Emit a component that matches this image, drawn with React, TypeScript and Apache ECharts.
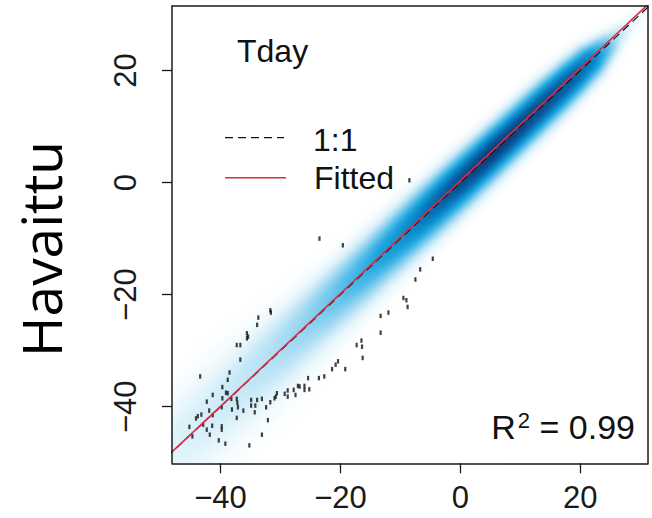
import React, { useEffect, useRef } from "react";
import * as echarts from "echarts";

// Axis ranges and ticks
const X_MIN = -48.1;
const X_MAX = 31.3;
const Y_MIN = -50.1;
const Y_MAX = 31.5;
const xTickValues = [-40, -20, 0, 20];
const yTickValues = [-40, -20, 0, 20];

// Smoothed density ridge along the diagonal (position, half-width in data units, peak density 0..1)
const bandX = [-50, -45, -40, -35, -30, -25, -20, -15, -10, -5, 0, 5, 10, 15, 19, 22, 24, 26, 28, 32];
const bandHalfWidth = [17, 17, 16.5, 15.5, 14, 12.5, 11.5, 10.5, 10, 9.5, 9, 8.5, 8.2, 8, 7.5, 7, 6, 5, 4, 3];
const bandPeak = [0.08, 0.1, 0.12, 0.15, 0.19, 0.25, 0.34, 0.46, 0.6, 0.78, 0.93, 1.0, 0.97, 0.92, 0.85, 0.7, 0.42, 0.18, 0.07, 0.02];

// Outlying individual points
const outlierX = [
  -31.7, -31.6, -33.7, -33.9, -35.6, -35.4, -35.6, -37.3, -36.7, -36.7, -38.5, -43.4, -38.8, -39.7, -41.3,
  -39.1, -38.8, -39.7, -42.3, -38.2, -37.3, -37.2, -37.1, -38.1, -39.8, -41.9, -43.2, -43.8, -44.1, -41.3,
  -37.3, -36.2, -34.9, -34.2, -34.9, -33.9, -34.3, -33.1, -32.4, -31.7, -31.0, -30.8, -30.6, -29.3, -28.8,
  -28.8, -27.8, -27.5, -27.1, -26.8, -26.0, -26.0, -25.2, -25.4, -23.6, -22.7, -21.4, -20.8, -20.4, -19.2,
  -45.2, -44.7, -42.9, -42.3, -41.8, -41.4, -39.8, -39.8, -40.3, -39.2, -35.2, -33.1, -32.1,
  -17.3, -16.5, -16.4, -16.3, -13.3, -13.3, -12.0, -9.5, -9.0, -8.8, -7.5, -6.7, -4.6, -23.5, -19.6, -8.5,
];
const outlierY = [
  -22.8, -23.2, -24.1, -25.4, -26.9, -27.5, -27.8, -29.0, -29.0, -31.6, -33.9, -34.6, -35.2, -36.5, -37.9,
  -37.5, -37.6, -38.5, -39.1, -38.6, -38.6, -39.3, -40.1, -40.5, -40.1, -40.7, -41.4, -41.7, -42.1, -41.5,
  -42.0, -40.7, -39.8, -39.8, -38.8, -38.8, -41.0, -38.6, -40.1, -39.2, -38.5, -38.2, -37.6, -37.7, -37.1,
  -38.2, -37.0, -37.9, -36.3, -36.4, -36.3, -37.0, -36.9, -34.9, -34.9, -34.6, -33.3, -32.5, -31.9, -33.3,
  -43.6, -45.3, -43.2, -44.1, -45.0, -43.4, -43.5, -44.1, -46.0, -46.6, -46.9, -45.0, -42.4,
  -29.0, -28.2, -29.3, -31.3, -26.8, -23.8, -23.2, -20.6, -21.0, -22.2, -17.3, -15.5, -13.6, -10.0, -11.2, 0.4,
];

// Fitted regression line
const fitSlope = 1.006;
const fitIntercept = 0.3;
const rSquared = "0.99";
const lineEnds = [-60, 40];

// Density colour ramp (white -> cyan -> dark blue)
const rampLevels = [0, 0.08, 0.2, 0.35, 0.5, 0.65, 0.8, 0.92, 1];
const rampColors = ["#ffffff", "#e3f4fb", "#a6dbf2", "#58bfea", "#1ca5df", "#0b8bcb", "#066aae", "#08508f", "#0b3c7a"];

const RED = "#dc2a45";
const FONT = '"Liberation Sans", Arial, sans-serif';

function hexToRgb(h: string) {
  return [parseInt(h.slice(1, 3), 16), parseInt(h.slice(3, 5), 16), parseInt(h.slice(5, 7), 16)];
}
const rampRgb = rampColors.map(hexToRgb);

function densColor(d: number) {
  const v = Math.max(0, Math.min(1, d));
  let k = 0;
  while (k < rampLevels.length - 2 && v > rampLevels[k + 1]) k++;
  const t = (v - rampLevels[k]) / (rampLevels[k + 1] - rampLevels[k]);
  const a = rampRgb[k];
  const b = rampRgb[k + 1];
  const c = a.map((x, i) => Math.round(x + (b[i] - x) * t));
  return `rgb(${c[0]},${c[1]},${c[2]})`;
}

const lerp = (a: number, b: number, t: number) => a + (b - a) * t;

function renderBand(params: any, api: any) {
  const i = params.dataIndex;
  if (i >= bandX.length - 1) return null;
  const children: any[] = [];
  const K = 8;
  const N = 20;
  const sigma = 0.38;
  for (let j = 0; j < K; j++) {
    const t0 = j / K;
    const t1 = (j + 1) / K;
    const tm = (t0 + t1) / 2;
    const xa = lerp(bandX[i], bandX[i + 1], t0);
    const xb = lerp(bandX[i], bandX[i + 1], t1);
    const xm = lerp(bandX[i], bandX[i + 1], tm);
    const wm = lerp(bandHalfWidth[i], bandHalfWidth[i + 1], tm);
    const pm = lerp(bandPeak[i], bandPeak[i + 1], tm);
    const c0 = api.coord([xa, xa]);
    const c1 = api.coord([xb, xb]);
    const cm = api.coord([xm, xm]);
    let dx = c1[0] - c0[0];
    let dy = c1[1] - c0[1];
    const len = Math.hypot(dx, dy) || 1;
    dx /= len;
    dy /= len;
    const nx = -dy;
    const ny = dx;
    const top = api.coord([xm, xm + wm]);
    const W = Math.abs(top[1] - cm[1]) * Math.abs(dx);
    const e = 0.8;
    const a0 = [c0[0] - dx * e, c0[1] - dy * e];
    const a1 = [c1[0] + dx * e, c1[1] + dy * e];
    const points = [
      [a0[0] + nx * W, a0[1] + ny * W],
      [a1[0] + nx * W, a1[1] + ny * W],
      [a1[0] - nx * W, a1[1] - ny * W],
      [a0[0] - nx * W, a0[1] - ny * W],
    ];
    const colorStops: any[] = [];
    for (let k = 0; k <= N; k++) {
      const s = -1 + (2 * k) / N;
      const d = pm * Math.exp(-0.5 * Math.pow(Math.abs(s / sigma), 2.3));
      colorStops.push({ offset: k / N, color: densColor(d) });
    }
    children.push({
      type: "polygon",
      shape: { points },
      style: {
        fill: {
          type: "linear",
          x: cm[0] - nx * W,
          y: cm[1] - ny * W,
          x2: cm[0] + nx * W,
          y2: cm[1] + ny * W,
          global: true,
          colorStops,
        },
      },
    });
  }
  return { type: "group", children };
}

const minus = (v: number) => String(v).replace("-", "\u2212");

export default function App() {
  const ref = useRef<HTMLDivElement>(null);
  useEffect(() => {
    if (!ref.current) return;
    const chart = echarts.init(ref.current, undefined, { renderer: "svg" });
    const frameAxis = {
      axisLine: { show: true, onZero: false, lineStyle: { color: "#1a1a1a", width: 1.5 } },
      axisTick: { show: false },
      axisLabel: { show: false },
      splitLine: { show: false },
      z: 10,
    };
    const option: any = {
      animation: false,
      backgroundColor: "#ffffff",
      grid: { left: 172, top: 6, width: 476, height: 457.3 },
      xAxis: [
        {
          type: "value",
          min: X_MIN,
          max: X_MAX,
          position: "bottom",
          z: 10,
          axisLine: { show: true, onZero: false, lineStyle: { color: "#1a1a1a", width: 1.5 } },
          axisTick: { show: true, length: 10, customValues: xTickValues, lineStyle: { color: "#1a1a1a", width: 1.3 } },
          axisLabel: {
            customValues: xTickValues,
            formatter: (v: number) => minus(v),
            fontSize: 31,
            fontFamily: FONT,
            color: "#1a1a1a",
            margin: 18.5,
          },
          splitLine: { show: false },
        },
        { type: "value", min: X_MIN, max: X_MAX, position: "top", ...frameAxis },
      ],
      yAxis: [
        {
          type: "value",
          min: Y_MIN,
          max: Y_MAX,
          position: "left",
          z: 10,
          axisLine: { show: true, onZero: false, lineStyle: { color: "#1a1a1a", width: 1.5 } },
          axisTick: { show: true, length: 10, customValues: yTickValues, lineStyle: { color: "#1a1a1a", width: 1.3 } },
          axisLabel: {
            customValues: yTickValues,
            formatter: (v: number) => minus(v),
            rotate: 90,
            fontSize: 31,
            fontFamily: FONT,
            color: "#1a1a1a",
            margin: 31.5,
          },
          splitLine: { show: false },
        },
        { type: "value", min: Y_MIN, max: Y_MAX, position: "right", ...frameAxis },
      ],
      series: [
        {
          type: "custom",
          name: "density",
          clip: true,
          z: 1,
          silent: true,
          data: bandX.map((x, i) => [x, bandHalfWidth[i], bandPeak[i]]),
          encode: { x: 0, y: 0 },
          renderItem: renderBand,
        },
        {
          type: "scatter",
          name: "points",
          z: 3,
          symbol: "rect",
          symbolSize: [2.2, 4.5],
          itemStyle: { color: "#111111" },
          data: outlierX.map((x, i) => [x, outlierY[i]]),
        },
        {
          type: "line",
          name: "1:1",
          z: 4,
          symbol: "none",
          clip: true,
          lineStyle: { color: "#111111", width: 1.2, type: [8, 5] },
          data: lineEnds.map((x) => [x, x]),
        },
        {
          type: "line",
          name: "Fitted",
          z: 5,
          symbol: "none",
          clip: true,
          lineStyle: { color: RED, width: 1.6 },
          data: lineEnds.map((x) => [x, fitSlope * x + fitIntercept]),
        },
      ],
      graphic: [
        {
          type: "text",
          x: 40,
          y: 249,
          rotation: Math.PI / 2,
          style: {
            text: "Havaittu",
            font: '55px "Open Sans", sans-serif',
            fill: "#000000",
            align: "center",
            verticalAlign: "middle",
          },
        },
        {
          type: "text",
          x: 237,
          y: 51,
          z: 20,
          style: { text: "Tday", font: `32px ${FONT}`, fill: "#111111", align: "left", verticalAlign: "middle" },
        },
        {
          type: "line",
          z: 20,
          shape: { x1: 225, y1: 137.7, x2: 284, y2: 137.7 },
          style: { stroke: "#111111", lineWidth: 1.3, lineDash: [8, 5] },
        },
        {
          type: "text",
          x: 313,
          y: 140,
          z: 20,
          style: { text: "1:1", font: `32px ${FONT}`, fill: "#111111", align: "left", verticalAlign: "middle" },
        },
        {
          type: "line",
          z: 20,
          shape: { x1: 225, y1: 177.7, x2: 286, y2: 177.7 },
          style: { stroke: RED, lineWidth: 1.6 },
        },
        {
          type: "text",
          x: 314,
          y: 177.5,
          z: 20,
          style: { text: "Fitted", font: `32px ${FONT}`, fill: "#111111", align: "left", verticalAlign: "middle" },
        },
        {
          type: "text",
          x: 635,
          y: 426.5,
          z: 20,
          style: {
            text: `{a|R}{s|2}{a| = ${rSquared}}`,
            align: "right",
            verticalAlign: "middle",
            rich: {
              a: { fontSize: 34, fontFamily: FONT, fill: "#111111", color: "#111111", lineHeight: 34 },
              s: { fontSize: 22, fontFamily: FONT, fill: "#111111", color: "#111111", lineHeight: 18, verticalAlign: "top", padding: [0, 0, 0, 2] },
            },
          },
        },
      ],
    };
    chart.setOption(option);
    return () => chart.dispose();
  }, []);
  return (
    <div
      ref={ref}
      style={{ position: "fixed", left: 0, top: 0, width: 652, height: 518, background: "#ffffff" }}
    />
  );
}
